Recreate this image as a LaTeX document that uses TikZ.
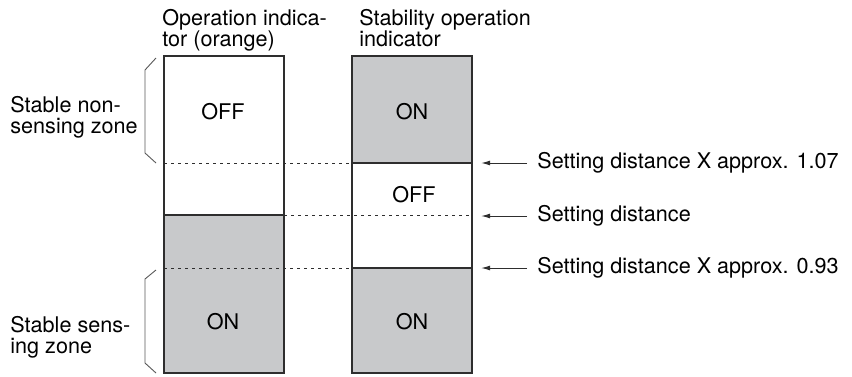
\documentclass[tikz,border=0pt]{standalone}
\usepackage{fontspec}
\setmainfont{TeX Gyre Heros}
\usetikzlibrary{arrows.meta,positioning}
\definecolor{zonegray}{HTML}{C8C9CB}
\definecolor{ink}{HTML}{2E2E2E}
\tikzset{frame/.style={draw=ink,line width=0.6pt}, level/.style={draw=ink,line width=0.5pt,dash pattern=on 1.5pt off 2pt}, edge/.style={draw=ink,line width=0.6pt}, brace/.style={draw=ink!80,line width=0.45pt}, state/.style={inner sep=0pt,font=\fontsize{10.8}{10.3}\selectfont}, note/.style={inner sep=0pt,align=left,anchor=north west,font=\fontsize{10.8}{10.3}\selectfont}, pointer/.style={-{Latex[length=4.5pt,width=2.4pt]},draw=ink,line width=0.5pt}}

\begin{document}
\begin{tikzpicture}[x=0.5pt,y=-0.5pt]
\useasboundingbox (0,0) rectangle (852,376);
\coordinate (opTL) at (164,56); \coordinate (opBR) at (284,373);
\coordinate (stTL) at (352,56); \coordinate (stBR) at (472,373);
% gray ON zones
\fill[zonegray] (164,215) rectangle (opBR);
\fill[zonegray] (stTL) rectangle (472,163);
\fill[zonegray] (352,268) rectangle (stBR);
% distance levels
\draw[level] (164,163) -- (352,163);
\draw[edge] (352,163) -- (472,163);
\draw[edge] (164,215) -- (284,215);
\draw[level] (284,215) -- (472,215);
\draw[level] (164,268) -- (352,268);
\draw[edge] (352,268) -- (472,268);
\draw[frame] (opTL) rectangle (opBR);
\draw[frame] (stTL) rectangle (stBR);
% headers
\node[note] (ophead) at (162,9) {Operation indica-\\tor (orange)};
\node[note] (sthead) at (359,9) {Stability operation\\indicator};
% zones
\draw[brace] (156,58) -- (145,70) -- (145,153) -- (156,163);
\draw[brace] (156,270) -- (145,279) -- (145,363) -- (156,373);
\node[note] (nonsense) at (10,96) {Stable non-\\sensing zone};
\node[note] (sense) at (10,316) {Stable sens-\\ing zone};
% states
\node[state] (opoff) at (223,112) {OFF};
\node[state] (opon) at (223,322) {ON};
\node[state] (ston1) at (412,112) {ON};
\node[state] (stoff) at (414,195) {OFF};
\node[state] (ston2) at (412,322) {ON};
% setting distances
\node[note,anchor=west] (far) at (537,163) {Setting distance X approx. 1.07};
\node[note,anchor=west] (mid) at (537,216) {Setting distance};
\node[note,anchor=west] (near) at (537,268) {Setting distance X approx. 0.93};
\coordinate (farTip) at (481,163);
\coordinate (midTip) at (481,216);
\coordinate (nearTip) at (481,268);
\draw[pointer] ([xshift=-5pt]far.west) -- (farTip);
\draw[pointer] ([xshift=-5pt]mid.west) -- (midTip);
\draw[pointer] ([xshift=-5pt]near.west) -- (nearTip);
\end{tikzpicture}
\end{document}
